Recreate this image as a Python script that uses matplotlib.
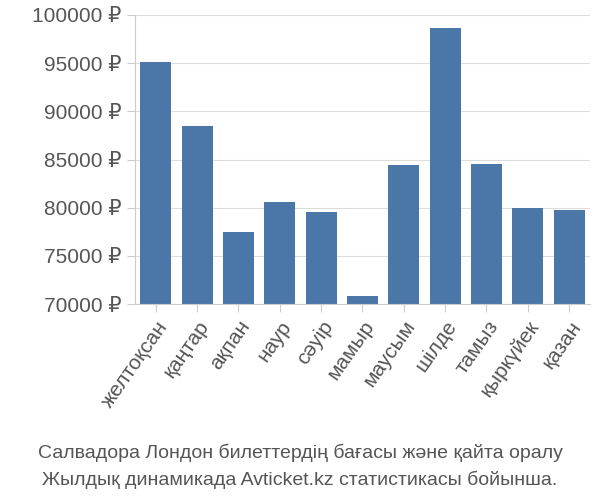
import matplotlib.pyplot as plt

plt.rcParams['font.family'] = ['Liberation Sans', 'DejaVu Sans']

months = ["желтоқсан", "қаңтар", "ақпан", "наур", "сәуір", "мамыр",
          "маусым", "шілде", "тамыз", "қыркүйек", "қазан"]
prices = [95100, 88450, 77450, 80550, 79550, 70800,
          84400, 98700, 84500, 79950, 79750]
yticks = [70000, 75000, 80000, 85000, 90000, 95000, 100000]

fig = plt.figure(figsize=(6, 5), dpi=100)
ax = fig.add_axes([0.225, 0.392, 0.758, 0.578])
ax.bar(range(len(months)), [p - 70000 for p in prices], bottom=70000,
       width=0.75, color="#4a76a8", zorder=2)
ax.set_ylim(70000, 100000)
ax.set_xlim(-0.5, len(months) - 0.5)
ax.set_yticks(yticks)
ax.set_yticklabels([f"{v} ₽" for v in yticks], fontsize=15, color="#555555")
ax.set_xticks(range(len(months)))
ax.set_xticklabels(months, rotation=55, ha="right", rotation_mode="anchor",
                   fontsize=15, color="#555555")
ax.grid(axis="y", color="#dddddd", zorder=0)
for s in ["top", "right"]:
    ax.spines[s].set_visible(False)
ax.spines["left"].set_color("#cccccc")
ax.spines["bottom"].set_color("#cccccc")
ax.tick_params(axis="both", length=6, color="#cccccc")

fig.text(0.5, 0.085, "Салвадора Лондон билеттердің бағасы және қайта оралу",
         ha="center", fontsize=14, color="#555555")
fig.text(0.5, 0.03, "Жылдық динамикада Avticket.kz статистикасы бойынша.",
         ha="center", fontsize=14, color="#555555")

fig.savefig("out.png", dpi=100)
